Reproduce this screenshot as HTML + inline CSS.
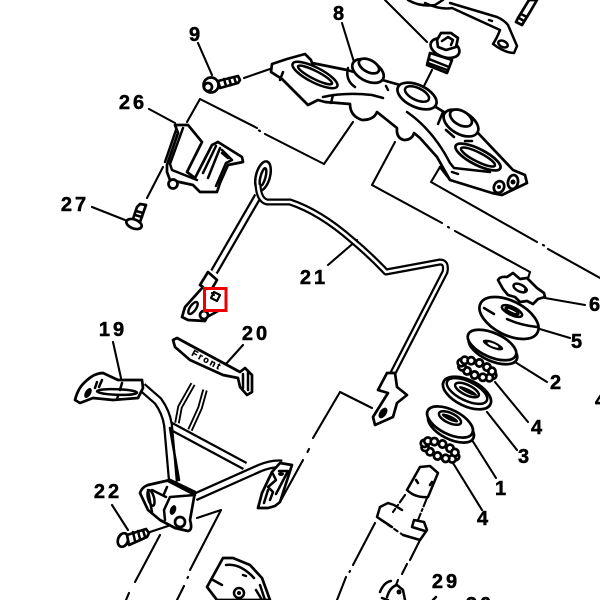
<!DOCTYPE html>
<html><head><meta charset="utf-8"><style>
html,body{margin:0;padding:0;background:#fff}
svg{display:block}
.l{fill:none;stroke:#000;stroke-width:2.5;stroke-linecap:round;stroke-linejoin:round}
.d{fill:none;stroke:#000;stroke-width:2.1;stroke-linecap:round;stroke-linejoin:round}
.w{fill:#fff;stroke:#000;stroke-width:2.7;stroke-linejoin:round}
.t{font-family:"Liberation Sans",sans-serif;font-weight:bold;font-size:20px;fill:#000;stroke:#000;stroke-width:.5px;text-anchor:middle;letter-spacing:3px}
</style></head><body>
<svg width="600" height="600" viewBox="0 0 600 600" xmlns="http://www.w3.org/2000/svg">
<defs>
<g id="balls" class="w">
<circle cx="17" cy="0" r="3.6"/><circle cx="14.7" cy="3.500" r="3.6"/><circle cx="8.5" cy="5.5" r="3.6"/><circle cx="0" cy="6.5" r="3.6"/><circle cx="-8.5" cy="5.5" r="3.6"/><circle cx="-14.7" cy="3.500" r="3.6"/><circle cx="-17" cy="0" r="3.6"/><circle cx="-14.7" cy="-3.500" r="3.6"/><circle cx="-8.5" cy="-5.5" r="3.6"/><circle cx="0" cy="-6.5" r="3.6"/><circle cx="8.5" cy="-5.5" r="3.6"/><circle cx="14.7" cy="-3.500" r="3.6"/>
</g>
</defs>
<rect width="600" height="600" fill="#fff"/>

<!-- leaders / dash lines -->
<g class="d">
<path d="M198 43L212 75M342 23L354 62M149 109L175 123M92 207L125 220M163 167L147 198"/>
<path d="M353 122L324 164L265 134M260 131L259 130.500M257 128L200 99L187 122"/>
<path d="M244 78L270 69"/>
<path d="M395 142L372 185L442 223M448 227L449 227.500M455 231L530 272L525 288"/>
<path d="M440 167L431 182L537 242M543 245L544 245.500M548 249L600 278"/>
<path d="M385 0L427 42M432 70L424 86"/>
<path d="M243 345L225 365M113 342L121 378"/>
<path d="M112 505L128 530M150 532L177 523"/>
<path d="M160 535L135 582M129 593L126 600"/>
<path d="M197 518L221 510L190 570M188 577L187.500 578M184 586L177 600"/>
<path d="M303 460L280 502M308 451L307.500 452"/>
<path d="M372 408L340 392L313 438M309 449L308.500 450"/>
<path d="M357 240L328 265"/>
<path d="M545 298L585 305M533 327L570 338M515 362L547 382M495 382L528 422M487 412L517 450M472 440L496 478M453 463L482 510"/>
</g>

<!-- top-right bracket -->
<path class="l" d="M408 0Q420 7 435 5L443 0M450 3L497 17Q504 20 508 25L517 46L514 53Q505 53 493 44Q497 38 500 30L452 8Q440 10 425 3"/>
<ellipse class="l" cx="503" cy="44" rx="5" ry="3" transform="rotate(25 503 44)"/>
<path class="l" d="M489 20l3 1"/>
<path class="w" d="M529 0L518 18L516 22L522 25L530 12L537 0Z"/>
<path class="l" d="M521 14l6 3M519 18l5 3"/>

<!-- bolt top -->
<path class="w" d="M430 53L427 65L447 73L452 60Z"/>
<path class="l" d="M429 59l20 8M428 63l19 7"/>
<ellipse class="w" cx="445" cy="48" rx="15" ry="9" transform="rotate(20 445 48)"/>
<path class="w" d="M437 40L441 33L451 33L458 38L456 47L446 50L438 47Z"/>
<path class="l" d="M442 41l6-4 5 3-2 5"/>

<!-- triple clamp -->
<path class="w" d="M272 64L287 59L305 54L311 60L312 63L347 70L400 85L478 133L513 170L525 175L527 183L502 195L492 193L450 180L437 157L420 138L414 133Q412 140 404 140Q396 138 397 128L377 112Q374 120 362 120Q350 116 350 104L325 102L318 100L308 105L282 79L271 72Z"/>
<path class="l" d="M323 97Q345 92 372 95L383 98M407 112Q433 130 450 163L454 168L490 172M440 167L450 180M452 172L458 174"/>
<ellipse class="l" cx="315" cy="75" rx="25" ry="7.500" transform="rotate(27 315 75)"/>
<ellipse class="l" cx="315" cy="75" rx="19" ry="4" transform="rotate(27 315 75)"/>
<ellipse class="w" cx="478" cy="157" rx="25" ry="8" transform="rotate(27 478 157)"/>
<ellipse class="l" cx="478" cy="157" rx="19" ry="4.500" transform="rotate(27 478 157)"/>
<path class="l" d="M333 95l-2 8M283 72l-3 8"/>
<!-- center washer -->
<ellipse class="w" cx="417" cy="96" rx="21" ry="11" transform="rotate(25 417 96)" stroke-width="3.200"/>
<ellipse class="l" cx="417" cy="94" rx="13" ry="6" transform="rotate(25 417 94)"/>
<!-- left bolt -->
<path class="l" d="M348 68Q345 80 355 87M388 90l-2 -4"/>
<ellipse class="w" cx="368" cy="71" rx="17" ry="10" transform="rotate(28 368 71)"/>
<ellipse class="w" cx="369" cy="66" rx="11" ry="6" transform="rotate(28 369 66)"/>
<!-- right bolt -->
<ellipse class="w" cx="461" cy="123" rx="19" ry="11" transform="rotate(30 461 123)" stroke-width="3"/>
<ellipse class="w" cx="461" cy="118" rx="12" ry="7" transform="rotate(30 461 118)"/>
<path class="l" d="M443 112l-5 12M446 130l8 7M465 141l7 0"/>
<!-- end holes -->
<ellipse class="w" cx="499" cy="187" rx="5" ry="6" transform="rotate(25 499 187)"/>
<ellipse class="w" cx="513" cy="182" rx="5" ry="7" transform="rotate(10 513 182)"/>
<circle cx="513" cy="182" r="2.500"/><circle cx="499" cy="187" r="2"/>

<!-- bolt 9 -->
<circle class="w" cx="211" cy="85" r="7.500" stroke-width="3"/>
<circle class="w" cx="208" cy="87" r="4"/>
<path class="w" d="M218 81L238 76L240 80L238 83L220 88Z"/>
<path class="l" d="M224 79l2 7M229 78l2 7M234 77l2 6"/>

<!-- bracket 26 -->
<path class="w" d="M175 125L188 125L202 142L187 172L195 178L212 145L218 142L242 157L243 162L228 165L220 183L217 192L200 192L193 185L170 180L167 172L167 165L178 133Z"/>
<path class="l" d="M183 128L170 164L172 170L197 180M176 130L165 162M220 148L208 178M216 146L203 173M222 150L232 160L226 163L216 186M228 158l-6-5"/>
<circle class="w" cx="173" cy="184" r="4.500"/>
<!-- bolt 27 -->
<path class="w" d="M137 207L140 204L146 205L140 222L133 219Z"/>
<path class="l" d="M136 211l7 2M135 215l7 2"/>
<ellipse class="w" cx="134" cy="224" rx="8" ry="4.500" transform="rotate(20 134 224)" stroke-width="3"/>

<!-- cable -->
<path fill="none" stroke="#000" stroke-width="8.500" stroke-linejoin="round" d="M258 196L214 272"/>
<path fill="none" stroke="#fff" stroke-width="4" d="M258 196L214 272"/>
<ellipse class="l" cx="263" cy="176" rx="7" ry="15" transform="rotate(15 263 176)" stroke-width="2.800"/>
<ellipse class="l" cx="263" cy="177" rx="2.500" ry="9" transform="rotate(15 263 177)"/>
<path fill="none" stroke="#000" stroke-width="7" stroke-linejoin="round" d="M258 185Q259 200 267 202L290 202Q320 212 352 240Q370 255 386 272L440 262Q447 262 445 272L393 373"/>
<path fill="none" stroke="#fff" stroke-width="2.600" stroke-linejoin="round" d="M258 185Q259 200 267 202L290 202Q320 212 352 240Q370 255 386 272L440 262Q447 262 445 272L393 373"/>

<!-- lug left -->
<path class="w" d="M208 272L217 280L210 292L222 298L218 311L207 317L205 321L188 320L182 317L185 307L203 287L200 285Z"/>
<ellipse fill="#fff" stroke="#000" stroke-width="2.400" cx="193" cy="308" rx="3" ry="7" transform="rotate(35 193 308)"/>
<circle class="w" cx="204" cy="315" r="4"/>
<rect x="204.500" y="288.500" width="21.500" height="22" fill="#fff" stroke="#ee0000" stroke-width="3"/>
<path class="d" stroke-width="1.700" d="M214 292l6 3-3 6-6-3zM212 293l2 2"/>

<!-- lug 21 lower -->
<path class="w" d="M387 373L395 373L397 387L407 395L397 403L393 417L375 425L373 417L388 393L378 390Z"/>
<ellipse cx="383" cy="413" rx="3.500" ry="6" transform="rotate(35 383 413)" fill="#000"/>

<!-- part 20 -->
<path class="w" d="M173 340L177 338L240 372L245 368L252 375L252 392L247 395L240 387L238 378L223 375L190 360L175 347Z"/>
<path class="l" d="M248 372L248 390M243 374L243 388"/>
<text x="0" y="0" transform="translate(191 355) rotate(28)" font-family="Liberation Sans,sans-serif" font-weight="bold" font-size="9" letter-spacing="2" stroke="#000" stroke-width=".4" fill="#000">Front</text>

<!-- wires -->
<g fill="none" stroke-linejoin="round">
<path stroke="#000" stroke-width="5.500" d="M193 384L180 407L177 423M205 390L200 408L190 430"/>
<path stroke="#fff" stroke-width="1.800" d="M193 384L180 407L177 423M205 390L200 408L190 430"/>
</g>
<!-- frame tubes -->
<g fill="none" stroke-linejoin="round">
<path stroke="#000" stroke-width="9" d="M165 423L245 466"/>
<path stroke="#fff" stroke-width="4.500" d="M165 423L245 466"/>
<path stroke="#000" stroke-width="9" d="M195 497L260 468Q272 463 282 464"/>
<path stroke="#fff" stroke-width="4.500" d="M195 497L260 468Q272 463 282 464"/>
<path stroke="#000" stroke-width="10" d="M142 387L158 401Q166 412 168 425L173 482"/>
<path stroke="#fff" stroke-width="5.500" d="M142 387L158 401Q166 412 168 425L173 482"/>
</g>
<path class="l" d="M170 428L179 480"/>

<!-- foot plate 19 -->
<path class="w" d="M75 400Q78 388 85 382Q94 373 103 373L118 380L142 380L143 388L138 398L113 400L93 398L80 403Z"/>
<ellipse class="l" cx="117" cy="392" rx="20" ry="2.800" transform="rotate(2 117 392)"/>
<ellipse cx="88" cy="393" rx="3" ry="5.500" transform="rotate(30 88 393)" fill="#000"/>
<path class="l" d="M102 380l-3 7M122 383l-2 7M97 382l-2 6M118 396l-1 3"/>

<!-- lower mount -->
<path class="w" d="M140 493Q142 487 148 485L170 480L195 492L190 520Q193 530 188 531L175 528L160 520L148 510Z"/>
<path class="l" d="M168 481L195 495L170 497L164 510L165 520M152 490L166 497M148 490L152 512"/>
<ellipse class="l" cx="151" cy="498" rx="3" ry="8" transform="rotate(-15 151 498)"/>
<ellipse cx="173" cy="510" rx="3" ry="5" transform="rotate(20 173 510)" fill="#000"/>
<path class="l" d="M167 487l-3 7"/>
<circle class="w" cx="180" cy="522" r="5"/>

<!-- right foot -->
<path class="w" d="M280 463L292 465L280 502L275 506L268 508L258 508L262 493L272 472Z"/>
<path class="l" d="M272 472L276 480L268 487L273 492L270 500M279 471L288 471L276 494M264 503L268 490"/>
<ellipse cx="281" cy="474" rx="3" ry="2" fill="#000"/>

<!-- bolt 22 -->
<ellipse class="w" cx="123" cy="540" rx="5" ry="7" transform="rotate(20 123 540)" stroke-width="3"/>
<path class="w" d="M127 535L146 529L149 533L147 537L129 545Z"/>
<path class="l" d="M133 532l2 9M138 531l2 8M143 530l2 7"/>

<!-- washers -->
<path class="w" d="M498 280Q500 276 507 277L513 273L520 279L527 278L532 283L537 288L544 293L545 297L538 299L533 304L527 301L520 302L515 297L508 295L503 289Z"/>
<ellipse class="l" cx="520" cy="288" rx="7" ry="3.500" transform="rotate(25 520 288)"/>
<circle cx="526" cy="290" r="2"/>

<ellipse class="w" cx="509" cy="318" rx="32" ry="17" transform="rotate(27 509 318)"/>
<path class="l" d="M507 319Q520 325 537 327M484 308l10 6"/>
<ellipse class="l" cx="512" cy="311" rx="11" ry="4" transform="rotate(25 512 311)"/>
<ellipse class="l" cx="512" cy="311" rx="7" ry="2" transform="rotate(25 512 311)"/>

<ellipse class="w" cx="493" cy="349" rx="26" ry="12" transform="rotate(24 493 349)"/>
<ellipse class="w" cx="492" cy="345" rx="26" ry="12" transform="rotate(24 492 345)"/>
<ellipse cx="493" cy="345" rx="11" ry="3.500" transform="rotate(23 493 345)" fill="#000"/>
<ellipse cx="493" cy="345" rx="6" ry="1.500" transform="rotate(23 493 345)" fill="#fff"/>

<use href="#balls" transform="translate(477 369) rotate(22)"/>

<ellipse class="w" cx="467" cy="393" rx="26" ry="13" transform="rotate(26 467 393)" stroke-width="3.200"/>
<ellipse class="l" cx="467" cy="391" rx="22" ry="9.500" transform="rotate(26 467 391)"/>
<ellipse class="l" cx="467" cy="390" rx="13" ry="5" transform="rotate(26 467 390)"/>
<ellipse cx="468" cy="391" rx="10" ry="2.200" transform="rotate(26 468 391)" fill="#000"/>

<ellipse class="w" cx="451" cy="427" rx="25" ry="12" transform="rotate(27 451 427)"/>
<ellipse class="w" cx="450" cy="422" rx="25" ry="12" transform="rotate(27 450 422)"/>
<ellipse class="l" cx="450" cy="418" rx="12" ry="5" transform="rotate(25 450 418)"/>
<ellipse cx="450" cy="418" rx="9" ry="2.500" transform="rotate(25 450 418)" fill="#000"/>

<use href="#balls" transform="translate(440 450) rotate(23)"/>

<!-- stem -->
<path class="l" d="M420 467L430 466L438 473L428 497M420 467L407 490M407 490Q415 498 428 497M416 480l2 3M432 482l-2 3"/>
<path class="d" stroke-dasharray="9 3 2 3" d="M405 495L393 512M427 498L418 520"/>
<path class="l" d="M380 507L388 503L394 505L402 510M380 507L377 517L392 527M403 535L420 540L427 530L424 522L414 520L412 527L425 531"/>
<path class="d" stroke-dasharray="4 4" d="M381 520L403 535"/>
<path class="d" d="M375 523L353 565M350 571L349.500 572M346 577L337 600"/>
<path class="d" d="M420 540L410 560M407 564L402 574M398 580L396 585"/>

<!-- bottom nut -->
<path class="l" d="M380 592Q384 582 391 581M387 597Q390 587 397 585L403 590L405 600"/>
<circle cx="399" cy="592" r="2.500"/>
<path class="l" d="M382 598l6 2"/>

<!-- bottom-left part -->
<path class="w" d="M223 558L233 558L250 565L262 578L270 600L217 600L207 587Z"/>
<path class="l" d="M226 565Q240 563 254 578M213 580l9 5M243 575l3 1M260 585l5 15M256 590l6 10"/>
<circle class="l" cx="239" cy="593" r="5"/>
<circle cx="239" cy="593" r="2"/>

<!-- labels -->
<text class="t" x="196" y="41">9</text>
<text class="t" x="340" y="20">8</text>
<text class="t" x="133" y="109">26</text>
<text class="t" x="75" y="211">27</text>
<text class="t" x="314" y="284">21</text>
<text class="t" x="113" y="336">19</text>
<text class="t" x="256" y="340">20</text>
<text class="t" x="108" y="498">22</text>
<text class="t" x="596" y="311">6</text>
<text class="t" x="578" y="348">5</text>
<text class="t" x="557" y="389">2</text>
<text class="t" x="538" y="434">4</text>
<text class="t" x="525" y="463">3</text>
<text class="t" x="502" y="495">1</text>
<text class="t" x="484" y="525">4</text>
<text class="t" x="446" y="588">29</text>
<text class="t" x="480" y="611">30</text>
<text class="t" x="602" y="407">4</text>
<path class="l" d="M436 597L433 600"/>
</svg>
</body></html>
